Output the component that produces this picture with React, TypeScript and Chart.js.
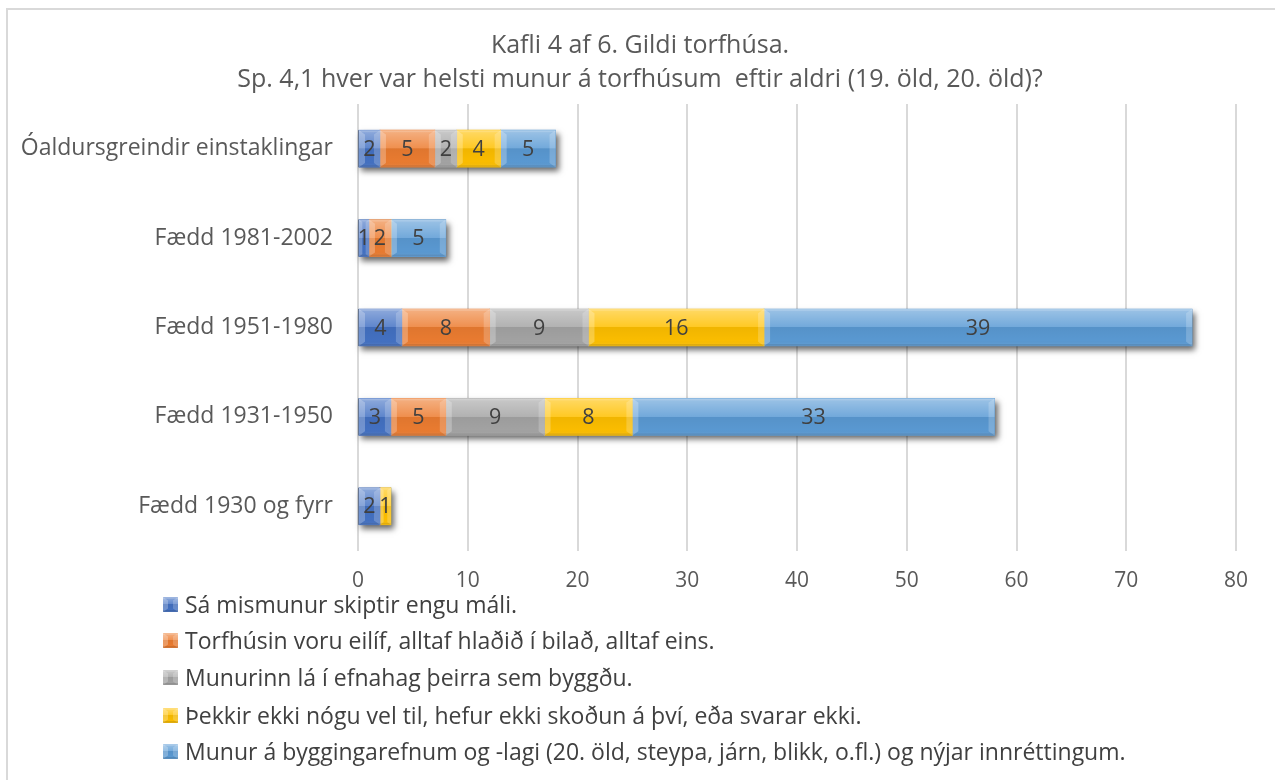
import React, { useEffect, useRef } from "react";
import { Chart, registerables } from "chart.js";

Chart.register(...registerables);

const categories = [
  "Óaldursgreindir einstaklingar",
  "Fædd 1981-2002",
  "Fædd 1951-1980",
  "Fædd 1931-1950",
  "Fædd 1930 og fyrr",
];

const seriesNames = [
  "Sá mismunur skiptir engu máli.",
  "Torfhúsin voru eilíf, alltaf hlaðið í bilað, alltaf eins.",
  "Munurinn lá í efnahag þeirra sem byggðu.",
  "Þekkir ekki nógu vel til, hefur ekki skoðun á því, eða svarar ekki.",
  "Munur á byggingarefnum og -lagi (20. öld, steypa, járn, blikk, o.fl.) og nýjar innréttingum.",
];

const engu = [2, 1, 4, 3, 2];
const eilif = [5, 2, 8, 5, 0];
const efnahag = [2, 0, 9, 9, 0];
const thekkir = [4, 0, 16, 8, 1];
const byggingarefni = [5, 5, 39, 33, 0];

const seriesValues = [engu, eilif, efnahag, thekkir, byggingarefni];
const seriesColors = ["#4472C4", "#ED7D31", "#A5A5A5", "#FFC000", "#5B9BD5"];

const titleLines = [
  "Kafli 4 af 6. Gildi torfhúsa.",
  "Sp. 4,1 hver var helsti munur á torfhúsum  eftir aldri (19. öld, 20. öld)?",
];

const FONT = "'Open Sans', 'DejaVu Sans', sans-serif";

function bevel(ctx: CanvasRenderingContext2D, l: number, t: number, w: number, h: number) {
  if (w <= 0) return;
  const g = ctx.createLinearGradient(0, t, 0, t + h);
  g.addColorStop(0, "rgba(255,255,255,0.40)");
  g.addColorStop(0.49, "rgba(255,255,255,0.14)");
  g.addColorStop(0.5, "rgba(0,0,0,0.06)");
  g.addColorStop(0.85, "rgba(0,0,0,0.02)");
  g.addColorStop(1, "rgba(255,255,255,0.10)");
  ctx.fillStyle = g;
  ctx.fillRect(l, t, w, h);
  const b = Math.min(6, w / 3);
  ctx.fillStyle = "rgba(255,255,255,0.25)";
  ctx.beginPath();
  ctx.moveTo(l, t);
  ctx.lineTo(l + b, t + b * 0.7);
  ctx.lineTo(l + b, t + h - b * 0.7);
  ctx.lineTo(l, t + h);
  ctx.closePath();
  ctx.fill();
  ctx.fillStyle = "rgba(255,255,255,0.2)";
  ctx.beginPath();
  ctx.moveTo(l + w, t);
  ctx.lineTo(l + w - b, t + b * 0.7);
  ctx.lineTo(l + w - b, t + h - b * 0.7);
  ctx.lineTo(l + w, t + h);
  ctx.closePath();
  ctx.fill();
  ctx.fillStyle = "rgba(255,255,255,0.15)";
  ctx.fillRect(l, t, w, 2);
  ctx.fillStyle = "rgba(0,0,0,0.1)";
  ctx.fillRect(l, t + h - 2, w, 2);
}

const decorPlugin = {
  id: "decor",
  beforeDraw(chart: any) {
    const ctx = chart.ctx as CanvasRenderingContext2D;
    ctx.save();
    ctx.fillStyle = "#ffffff";
    ctx.fillRect(0, 0, chart.width, chart.height);
    ctx.strokeStyle = "#d9d9d9";
    ctx.lineWidth = 2;
    ctx.strokeRect(7, 9, chart.width + 40, chart.height + 40);
    ctx.fillStyle = "#595959";
    ctx.font = `25px ${FONT}`;
    ctx.textAlign = "center";
    ctx.textBaseline = "middle";
    ctx.fillText(titleLines[0], 640, 46);
    ctx.fillText(titleLines[1], 640, 80);
    ctx.restore();
  },
  beforeDatasetsDraw(chart: any) {
    const ctx = chart.ctx as CanvasRenderingContext2D;
    const xs = chart.scales.x;
    ctx.save();
    categories.forEach((_, i) => {
      let total = 0;
      seriesValues.forEach((s) => (total += s[i]));
      const meta = chart.getDatasetMeta(0);
      const el = meta.data[i];
      const h = el.height;
      const top = el.y - h / 2;
      const l = xs.getPixelForValue(0);
      const r = xs.getPixelForValue(total);
      ctx.shadowColor = "rgba(0,0,0,0.6)";
      ctx.shadowBlur = 6;
      ctx.shadowOffsetX = 3;
      ctx.shadowOffsetY = 4;
      ctx.fillStyle = "#777";
      ctx.fillRect(l, top, r - l, h);
    });
    ctx.restore();
  },
  afterDatasetsDraw(chart: any) {
    const ctx = chart.ctx as CanvasRenderingContext2D;
    ctx.save();
    chart.data.datasets.forEach((ds: any, di: number) => {
      const meta = chart.getDatasetMeta(di);
      meta.data.forEach((el: any, i: number) => {
        const v = ds.data[i];
        if (!v) return;
        const l = Math.min(el.x, el.base);
        const w = Math.abs(el.x - el.base);
        const t = el.y - el.height / 2;
        bevel(ctx, l, t, w, el.height);
      });
    });
    ctx.fillStyle = "#404040";
    ctx.font = `21.5px ${FONT}`;
    ctx.textAlign = "center";
    ctx.textBaseline = "middle";
    chart.data.datasets.forEach((ds: any, di: number) => {
      const meta = chart.getDatasetMeta(di);
      meta.data.forEach((el: any, i: number) => {
        const v = ds.data[i];
        if (!v) return;
        ctx.fillText(String(v), (el.x + el.base) / 2, el.y + 1);
      });
    });
    ctx.restore();
  },
  afterDraw(chart: any) {
    const ctx = chart.ctx as CanvasRenderingContext2D;
    ctx.save();
    ctx.font = `23px ${FONT}`;
    ctx.textAlign = "left";
    ctx.textBaseline = "middle";
    const rows = [605, 641, 678, 716, 752];
    seriesNames.forEach((name, i) => {
      const y = rows[i];
      ctx.fillStyle = seriesColors[i];
      ctx.fillRect(163, y - 8, 15, 15);
      bevel(ctx, 163, y - 8, 15, 15);
      ctx.fillStyle = "#404040";
      ctx.fillText(name, 185, y + 1);
    });
    ctx.restore();
  },
};

export default function App() {
  const ref = useRef<HTMLCanvasElement | null>(null);
  useEffect(() => {
    if (!ref.current) return;
    const chart = new Chart(ref.current, {
      type: "bar",
      data: {
        labels: categories,
        datasets: seriesNames.map((name, i) => ({
          label: name,
          data: seriesValues[i],
          backgroundColor: seriesColors[i],
          borderWidth: 0,
          barThickness: 37,
        })),
      },
      options: {
        indexAxis: "y",
        animation: false,
        responsive: false,
        layout: { padding: { top: 104, right: 39, bottom: 179, left: 0 } },
        plugins: {
          legend: { display: false },
          title: { display: false },
          tooltip: { enabled: false },
        },
        scales: {
          x: {
            stacked: true,
            min: 0,
            max: 80,
            ticks: {
              stepSize: 10,
              color: "#595959",
              font: { family: FONT, size: 21 },
              padding: 17,
            },
            grid: { color: "#d9d9d9", lineWidth: 2, drawTicks: false },
            border: { display: false },
            afterFit: (s: any) => {
              s.height = 50;
            },
          },
          y: {
            stacked: true,
            ticks: {
              color: "#595959",
              font: { family: FONT, size: 23 },
              padding: 25,
            },
            grid: { display: false, drawTicks: false },
            border: { display: false },
            afterFit: (s: any) => {
              s.width = 358;
            },
          },
        },
      },
      plugins: [decorPlugin],
    } as any);
    return () => chart.destroy();
  }, []);
  return (
    <div style={{ position: "fixed", left: 0, top: 0, width: 1275, height: 780, background: "#fff" }}>
      <canvas ref={ref} width={1275} height={780} />
    </div>
  );
}
